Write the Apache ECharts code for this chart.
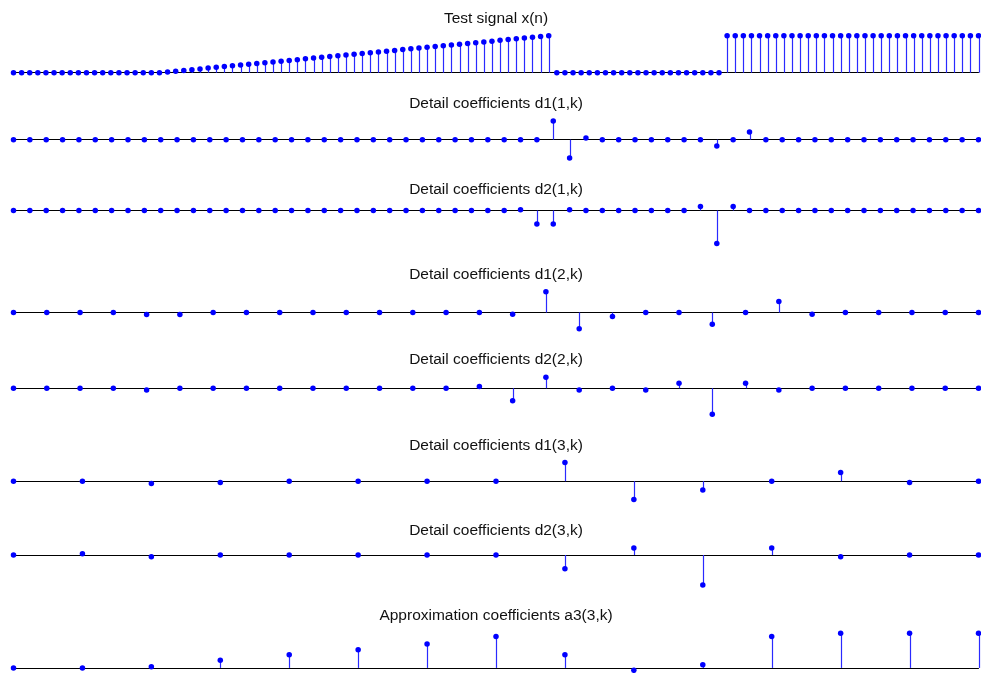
<!DOCTYPE html>
<html>
<head>
<meta charset="utf-8">
<title>Wavelet decomposition</title>
<script src="https://cdn.jsdelivr.net/npm/echarts@6/dist/echarts.min.js"></script>
<style>
  html, body { margin: 0; padding: 0; background: #fff; }
  #chart { width: 981px; height: 673px; }
</style>
</head>
<body>
<div id="chart"></div>
<script>
// Test signal: flat, ramp, flat, step
const signalX = [
  0,0,0,0,0,0,0,0,0,0,0,0,0,0,0,0,0,0,0,
  0.02,0.04,0.06,0.08,0.10,0.13,0.15,0.17,0.19,0.21,0.23,0.25,0.27,0.29,0.31,0.33,
  0.35,0.38,0.40,0.42,0.44,0.46,0.48,0.50,0.52,0.54,0.56,0.58,0.60,0.63,0.65,0.67,
  0.69,0.71,0.73,0.75,0.77,0.79,0.81,0.83,0.85,0.88,0.90,0.92,0.94,0.96,0.98,1.00,
  0,0,0,0,0,0,0,0,0,0,0,0,0,0,0,0,0,0,0,0,0,
  1,1,1,1,1,1,1,1,1,1,1,1,1,1,1,1,1,1,1,1,1,1,1,1,1,1,1,1,1,1,1,1
];

// Level 1 detail coefficients
const d1Level1 = [
  0,0,0,0,0,0,0,0,0,0,
  0,0,0,0,0,0,0,0,0,0,
  0,0,0,0,0,0,0,0,0,0,
  0,0,0,0.372,-0.368,0.032,0,0,0,0,
  0,0,0,-0.126,0,0.154,0,0,0,0,
  0,0,0,0,0,0,0,0,0,0
];
const d2Level1 = [
  0,0,0,0,0,0,0,0,0,0,
  0,0,0,0,0,0,0,0,0,0,
  0,0,0,0,0,0,0,0,0,0,
  0,0.014,-0.266,-0.266,0.014,0,0,0,0,0,
  0,0,0.08,-0.654,0.08,0,0,0,0,0,
  0,0,0,0,0,0,0,0,0,0
];

// Level 2 detail coefficients
const d1Level2 = [
  0,0,0,0,-0.04,-0.04,0,0,0,0,
  0,0,0,0,0,-0.034,0.414,-0.326,-0.08,0,
  0,-0.234,0,0.22,-0.034,0,0,0,0,0
];
const d2Level2 = [
  0,0,0,0,-0.034,0,0,0,0,0,
  0,0,0,0,0.034,-0.246,0.22,-0.034,0,-0.034,
  0.1,-0.514,0.1,-0.034,0,0,0,0,0,0
];

// Level 3 detail and approximation coefficients
const d1Level3 = [0,0,-0.046,-0.026,0,0,0,0,0.374,-0.366,-0.174,0,0.174,-0.026,0];
const d2Level3 = [0,0.026,-0.034,0,0,0,0,0,-0.274,0.14,-0.594,0.14,-0.034,0,0];
const a3Level3 = [0,0,0.105,0.622,1.075,1.479,1.963,2.561,1.075,-0.194,0.267,2.561,2.828,2.828,2.828];

const panelTitles = [
  'Test signal x(n)',
  'Detail coefficients d1(1,k)',
  'Detail coefficients d2(1,k)',
  'Detail coefficients d1(2,k)',
  'Detail coefficients d2(2,k)',
  'Detail coefficients d1(3,k)',
  'Detail coefficients d2(3,k)',
  'Approximation coefficients a3(3,k)'
];
const panelData = [signalX, d1Level1, d2Level1, d1Level2, d2Level2, d1Level3, d2Level3, a3Level3];

// Layout of the stacked stem plots
const plotLeft = 13.5;
const plotWidth = 965;
const firstTop = 35.7;
const rowStep = 85.37;
const plotHeight = 37;
const stemColor = '#0000ff';

const chart = echarts.init(document.getElementById('chart'), null, { renderer: 'canvas' });

const grids = [], xAxes = [], yAxes = [], series = [], graphics = [];

panelData.forEach((values, i) => {
  const top = firstTop + rowStep * i;
  grids.push({ left: plotLeft, width: plotWidth, top: top, height: plotHeight, containLabel: false });
  xAxes.push({
    type: 'value', gridIndex: i, min: 0, max: values.length - 1,
    axisLine: { show: true, onZero: true, lineStyle: { color: '#000', width: 1 } },
    axisTick: { show: false }, axisLabel: { show: false }, splitLine: { show: false }
  });
  yAxes.push({
    type: 'value', gridIndex: i, min: 'dataMin', max: 'dataMax',
    axisLine: { show: false }, axisTick: { show: false },
    axisLabel: { show: false }, splitLine: { show: false }
  });
  const pts = values.map((v, k) => [k, v]);
  // stems from the zero line up (or down) to each value
  series.push({
    type: 'custom', xAxisIndex: i, yAxisIndex: i, data: pts, z: 2,
    renderItem: function (params, api) {
      const k = api.value(0), v = api.value(1);
      const p0 = api.coord([k, 0]);
      const p1 = api.coord([k, v]);
      const sx = Math.round(p0[0]) + 0.5;
      return {
        type: 'line',
        shape: { x1: sx, y1: p0[1], x2: sx, y2: p1[1] },
        style: { stroke: '#2a2aff', lineWidth: 1.2 }
      };
    }
  });
  // filled markers at the stem tips
  series.push({
    type: 'scatter', xAxisIndex: i, yAxisIndex: i, data: pts, z: 3,
    symbol: 'circle', symbolSize: 5.5,
    itemStyle: { color: stemColor, opacity: 1 }
  });
  graphics.push({
    type: 'text', x: 496, y: top - 17.2, silent: true,
    style: {
      text: panelTitles[i], fill: '#111',
      font: '15.5px "Liberation Sans", Arial, sans-serif',
      textAlign: 'center', textVerticalAlign: 'middle'
    }
  });
});

chart.setOption({
  backgroundColor: '#fff',
  animation: false,
  grid: grids,
  xAxis: xAxes,
  yAxis: yAxes,
  series: series,
  graphic: graphics
});
</script>
</body>
</html>
